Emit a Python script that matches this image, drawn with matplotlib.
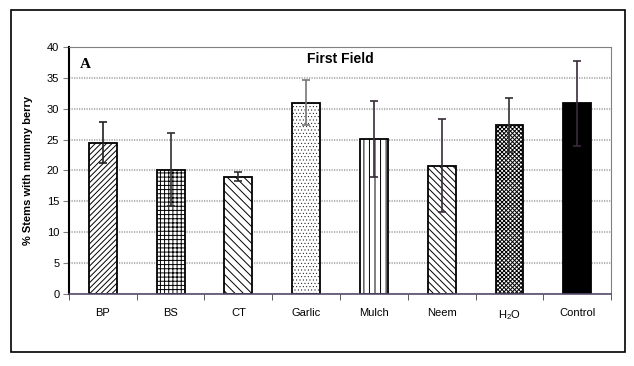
import matplotlib
matplotlib.use('Agg')
import matplotlib.pyplot as plt
from matplotlib.patches import Rectangle
import numpy as np

plt.rcParams['font.family'] = ['Liberation Sans', 'DejaVu Sans']
plt.rcParams['hatch.linewidth'] = 0.7

# data
treatments = ['BP', 'BS', 'CT', 'Garlic', 'Mulch', 'Neem', r'H$\mathregular{_2}$O', 'Control']
means = [24.5, 20.1, 19.0, 31.0, 25.1, 20.8, 27.4, 30.9]
errors = [3.3, 5.9, 0.7, 3.7, 6.1, 7.6, 4.4, 6.9]
hatches = ['//////', '++++', '\\\\\\\\', '.' * 5, '|||', '\\\\\\\\\\', 'xxxxxxxx', '']
fills = ['white', 'white', 'white', 'white', 'white', 'white', 'white', 'black']
err_colors = ['#202020', '#303030', '#303030', '#777777', '#3a2a3a', '#3a2a3a', '#303030', '#3a2a3a']

fig = plt.figure(figsize=(6.34, 3.66), dpi=100)
fig.patches.append(Rectangle((0.0174, 0.0383), 0.9685, 0.9344, transform=fig.transFigure,
                             fill=False, edgecolor='black', linewidth=1.2, zorder=0))

ax = fig.add_axes([0.1088, 0.1967, 0.855, 0.675])
x = np.arange(len(treatments))

for i in range(len(treatments)):
    # dotted fill needs thinner hatch lines or the dots merge
    hlw = 0.3 if hatches[i].startswith('.') else 0.7
    with plt.rc_context({'hatch.linewidth': hlw}):
        ax.bar(x[i], means[i], width=0.41, color=fills[i], edgecolor='black',
               hatch=hatches[i], linewidth=1.3, zorder=2)
    ax.errorbar(x[i], means[i], yerr=errors[i], fmt='none', ecolor=err_colors[i],
                elinewidth=1.2, capsize=3, capthick=1.2, zorder=3)

ax.set_xlim(-0.5, len(treatments) - 0.5)
ax.set_ylim(0, 40)
ax.set_yticks(range(0, 41, 5))
ax.yaxis.grid(True, color='#b4b4b4', linestyle=(0, (0.6, 0.6)), linewidth=1.5, zorder=0)
ax.set_axisbelow(True)

ax.set_xticks(x)
ax.set_xticklabels(treatments, fontsize=8)
ax.set_xticks(np.arange(-0.5, len(treatments)), minor=True)
ax.tick_params(axis='x', which='major', length=0, pad=10)
ax.tick_params(axis='x', which='minor', length=4, direction='out', color='#404040')
ax.tick_params(axis='y', labelsize=8, length=4, color='#808080', pad=3)

ax.spines['left'].set_linewidth(1.5)
ax.spines['left'].set_color('black')
ax.spines['bottom'].set_color('#5a4a6a')
ax.spines['bottom'].set_linewidth(1.2)
ax.spines['top'].set_color('#808080')
ax.spines['right'].set_color('#808080')

ax.set_ylabel('% Stems with mummy berry', fontsize=8, fontweight='bold', labelpad=10)
ax.text(0.5, 0.95, 'First Field', transform=ax.transAxes, ha='center', va='center',
        fontsize=10, fontweight='bold')
ax.text(0.02, 0.93, 'A', transform=ax.transAxes, ha='left', va='center',
        fontsize=11, fontweight='bold', family=['Liberation Serif', 'DejaVu Serif'])

fig.savefig('out.png', dpi=100)
